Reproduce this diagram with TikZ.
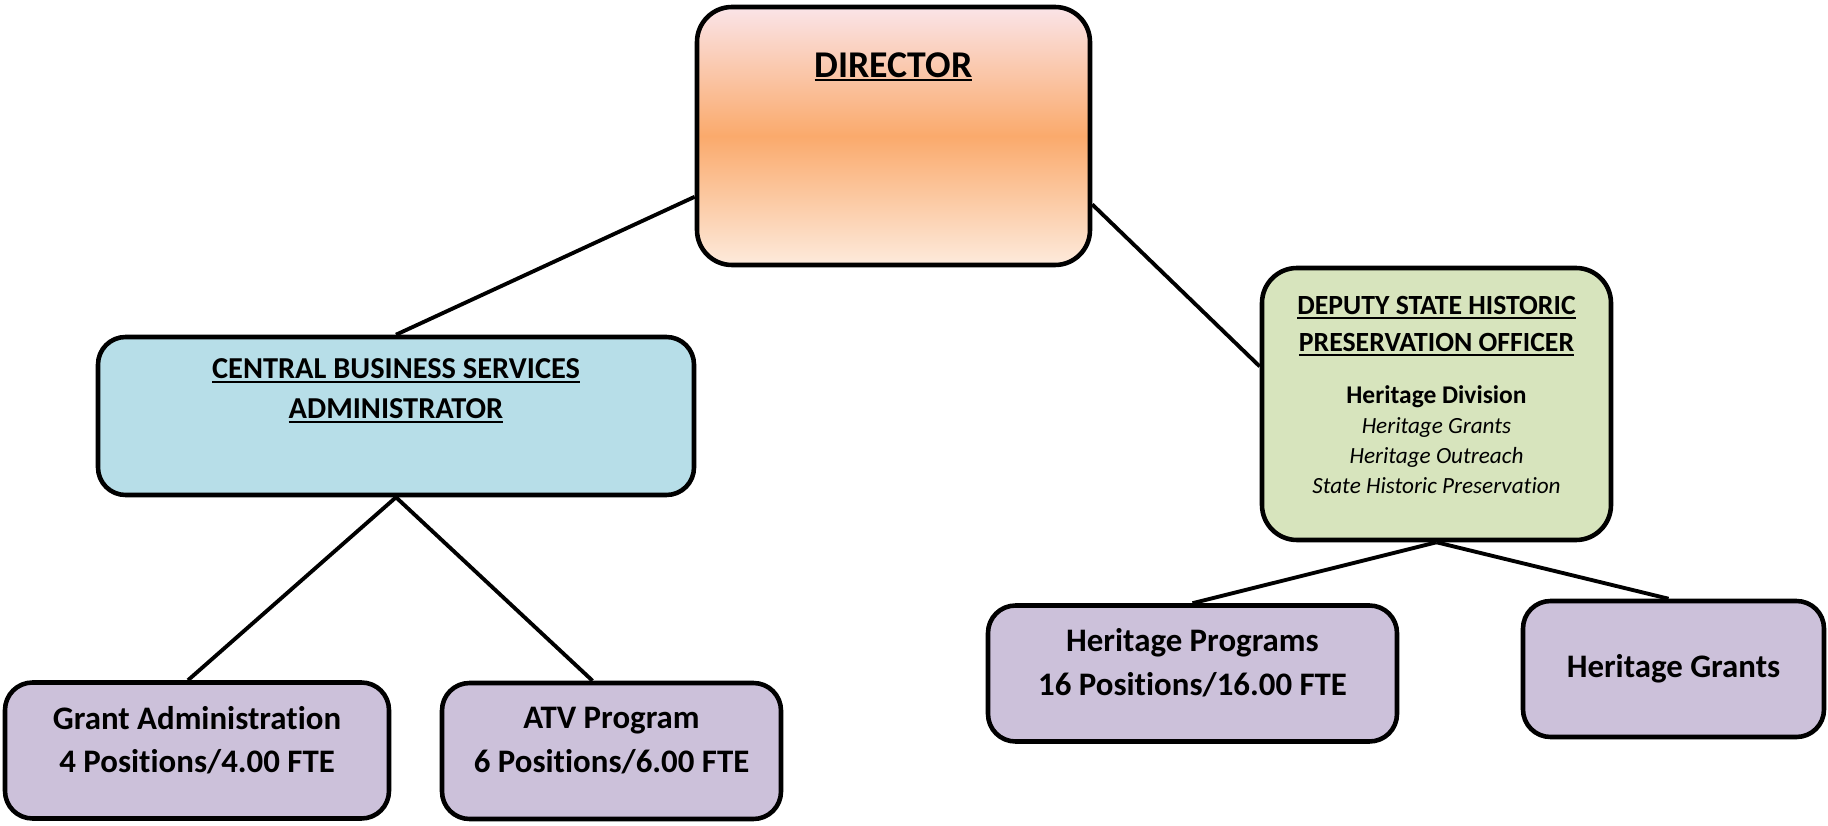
\documentclass[tikz,border=0pt]{standalone}
\usepackage{fontspec}
\setmainfont{Carlito}[Ligatures=NoCommon]
\usetikzlibrary{positioning}

\definecolor{dirorange}{RGB}{250,170,108}
\definecolor{dirpink}{RGB}{250,228,232}
\definecolor{dirlight}{RGB}{253,234,220}
\definecolor{cbsblue}{RGB}{183,222,232}
\definecolor{shpogreen}{RGB}{215,228,189}
\definecolor{unitpurple}{RGB}{204,193,218}

\newcommand\ulbox[1]{\setbox0\hbox{#1}\rlap{\rule[-2.2pt]{\wd0}{1pt}}\box0}

\begin{document}
\begin{tikzpicture}[
    box/.style={draw=black, line width=2.6pt, rounded corners=0.55cm, inner sep=0pt},
    unit/.style={box, fill=unitpurple, minimum height=2.72cm},
    boxtext/.style={align=center, inner sep=0pt, font=\bfseries\fontsize{18.7}{25}\selectfont},
    link/.style={line width=2.2pt}
]
    \useasboundingbox (0,0) rectangle (36.56,16.5);

    \node[box, top color=dirpink, bottom color=dirlight, middle color=dirorange, rounded corners=0.7cm,
        minimum width=7.86cm, minimum height=5.16cm] (director) at (17.87,13.78) {};
    \node[inner sep=0pt, font=\bfseries\fontsize{21.5}{25}\selectfont] (directorlbl) at ([yshift=-1.24cm]director.north) {\ulbox{DIRECTOR}};

    \node[box, fill=cbsblue, minimum width=11.92cm, minimum height=3.16cm] (cbs) at (7.92,8.18) {};
    \node[boxtext, font=\bfseries\fontsize{17.3}{22.7}\selectfont] (cbslbl) at ([yshift=-1.12cm]cbs.north)
        {\ulbox{CENTRAL BUSINESS SERVICES}\\\ulbox{ADMINISTRATOR}};

    \node[box, fill=shpogreen, rounded corners=0.7cm, minimum width=6.98cm, minimum height=5.44cm] (shpo) at (28.73,8.42) {};
    \node[boxtext, font=\bfseries\fontsize{15.8}{21}\selectfont] (shpolbl) at ([yshift=-1.21cm]shpo.north)
        {\ulbox{DEPUTY STATE HISTORIC}\\\ulbox{PRESERVATION OFFICER}};
    \node[align=center, inner sep=0pt, font=\fontsize{13.2}{17}\selectfont] (shpodiv) at ([yshift=-3.48cm]shpo.north)
        {{\bfseries\fontsize{14.5}{19}\selectfont Heritage Division}\\\itshape Heritage Grants\\\itshape Heritage Outreach\\\itshape State Historic Preservation};

    \node[unit, minimum width=7.68cm] (gadm) at (3.94,1.49) {};
    \node[boxtext] (gadmlbl) at ([yshift=-1.2cm]gadm.north) {Grant Administration\\4 Positions/4.00 FTE};
    \node[unit, minimum width=6.78cm] (atv) at (12.23,1.48) {};
    \node[boxtext] (atvlbl) at ([yshift=-1.2cm]atv.north) {ATV Program\\6 Positions/6.00 FTE};
    \node[unit, minimum width=8.18cm] (hprog) at (23.85,3.03) {};
    \node[boxtext] (hproglbl) at ([yshift=-1.19cm]hprog.north) {Heritage Programs\\16 Positions/16.00 FTE};
    \node[unit, minimum width=6.02cm] (hgrant) at (33.47,3.12) {};
    \node[boxtext] (hgrantlbl) at (hgrant.center) {Heritage Grants};

    \draw[link] (director.197) -- (cbs.north);
    \draw[link] (director.341) -- (shpo.168);
    \draw[link] (cbs.south) -- ([xshift=-0.18cm]gadm.north);
    \draw[link] (cbs.south) -- ([xshift=-0.38cm]atv.north);
    \draw[link] (shpo.south) -- (hprog.north);
    \draw[link] (shpo.south) -- ([xshift=-0.1cm]hgrant.north);
\end{tikzpicture}
\end{document}
